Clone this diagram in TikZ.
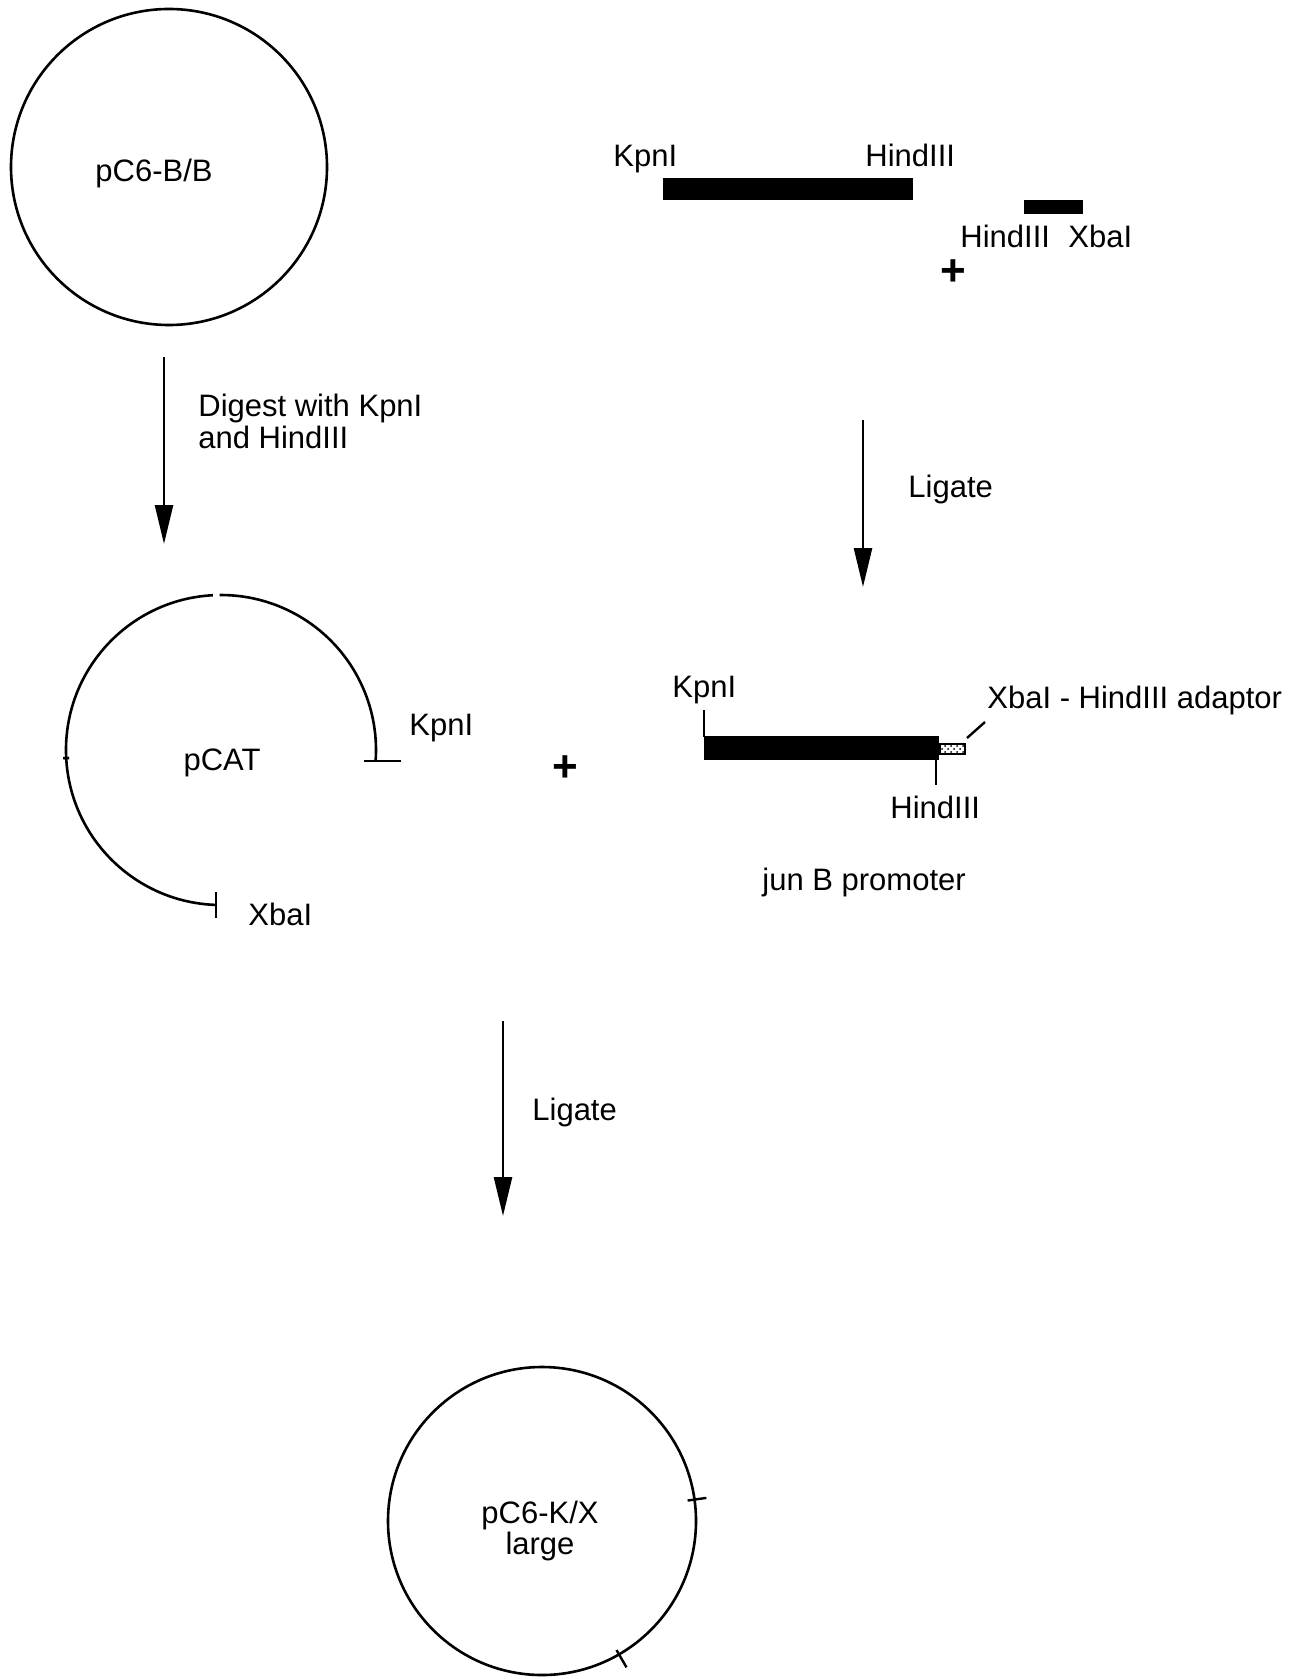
\documentclass[tikz,border=0pt]{standalone}
\usepackage{fontspec}
\setmainfont{Liberation Sans}
\usetikzlibrary{arrows.meta,patterns}

\begin{document}
\begin{tikzpicture}[x=0.5pt,y=-0.5pt,
  dna/.style={line width=1.3pt},
  plasmid/.style={circle,draw,line width=1.3pt,minimum size=#1,inner sep=0pt},
  lbl/.style={font=\fontsize{15.5}{15.5}\selectfont,inner sep=0pt},
  plus/.style={font=\fontsize{22}{22}\selectfont\bfseries,inner sep=0pt},
  step_arrow/.style={line width=1.3pt,-{Triangle[length=19.5pt,width=9pt]}},
  cut/.style={line width=0.9pt}]
\useasboundingbox (0,0) rectangle (1309,1679);

% starting plasmid
\node[plasmid=158pt] (p_bb) at (169,167) {};
\node[lbl,anchor=base] (p_bb_name) at (154,182) {pC6-B/B};

% jun B fragment and adaptor
\fill (663,178) rectangle (913,200);
\fill (1024,200) rectangle (1083,214);
\node[lbl,anchor=base west] (f_kpn) at (613,167) {KpnI};
\node[lbl,anchor=base west] (f_hind) at (865,167) {HindIII};
\node[lbl,anchor=base west] (a_hind) at (960,248) {HindIII};
\node[lbl,anchor=base west] (a_xba) at (1068,248) {XbaI};
\node[plus] (plus_1) at (953,273) {+};

% steps
\coordinate (s1_top) at (164,357);
\coordinate (s1_tip) at (164,544);
\draw[step_arrow] (s1_top) -- (s1_tip);
\node[lbl,anchor=base west,align=left,font=\fontsize{15.5}{16}\selectfont] (s1_text) at (198,449) {Digest with KpnI\\and HindIII};

\coordinate (s2_top) at (863,420);
\coordinate (s2_tip) at (863,587);
\draw[step_arrow] (s2_top) -- (s2_tip);
\node[lbl,anchor=base west] (s2_text) at (908,497) {Ligate};

% opened vector
\coordinate (p_cat) at (221,750);
\draw[dna] (p_cat) ++(4:155) arc[start angle=4,end angle=-90.5,radius=155];
\draw[dna] (p_cat) ++(-93:155) arc[start angle=-93,end angle=-268,radius=155];
\draw[dna] (p_cat) ++(177:152) -- ++(177:6);
\draw[cut] (364,761) -- (401,761);
\draw[cut] (216,892) -- (216,918);
\node[lbl,anchor=base] (p_cat_name) at (222,770) {pCAT};
\node[lbl,anchor=base west] (v_kpn) at (409,735) {KpnI};
\node[lbl,anchor=base west] (v_xba) at (248,925) {XbaI};
\node[plus] (plus_2) at (565,769) {+};

% ligated insert
\fill (704,736) rectangle (939,760);
\draw[line width=1pt,pattern=crosshatch dots] (940,744) rectangle (965,754);
\draw[cut] (704,710) -- (704,737);
\draw[cut] (936,760) -- (936,785);
\draw[line width=1.2pt] (967,738) -- (985,722);
\node[lbl,anchor=base west] (i_kpn) at (672,697) {KpnI};
\node[lbl,anchor=base west] (i_adapt) at (987,708) {XbaI - HindIII adaptor};
\node[lbl,anchor=base west] (i_hind) at (890,818) {HindIII};
\node[lbl,anchor=base west] (i_name) at (762,890) {jun B promoter};

\coordinate (s3_top) at (503,1021);
\coordinate (s3_tip) at (503,1216);
\draw[step_arrow] (s3_top) -- (s3_tip);
\node[lbl,anchor=base west] (s3_text) at (532,1120) {Ligate};

% final plasmid
\node[plasmid=154pt] (p_kx) at (542,1521) {};
\draw[cut,line width=1.2pt] (p_kx.center) ++(-8:147) -- ++(-8:19);
\draw[cut,line width=1.2pt] (p_kx.center) ++(60:149) -- ++(60:20);
\node[lbl,anchor=base,align=center,font=\fontsize{15.5}{15.5}\selectfont] (p_kx_name) at (540,1554) {pC6-K/X\\large};
\end{tikzpicture}
\end{document}
